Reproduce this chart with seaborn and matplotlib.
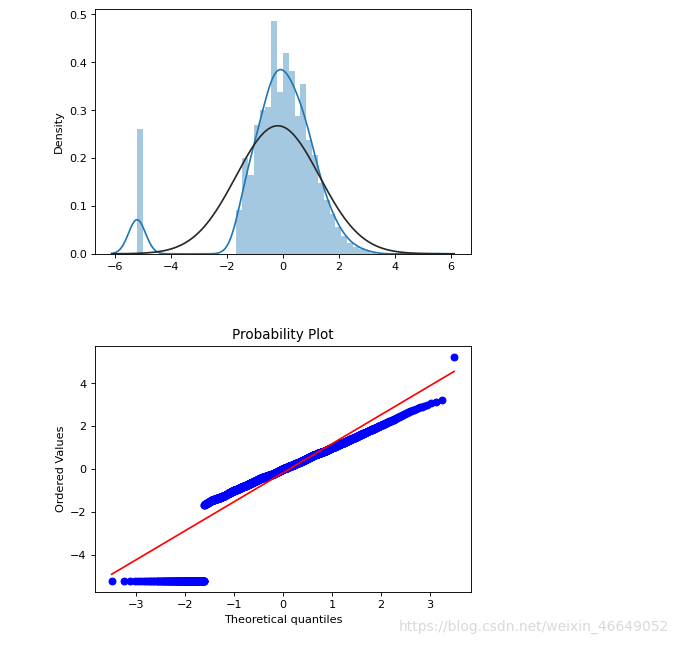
import numpy as np
import matplotlib
matplotlib.use("Agg")
import matplotlib.pyplot as plt
import seaborn as sns
from statistics import NormalDist

# ---------------- data ----------------
value_min = -5.2            # lowest observation (cluster of identical low values)
value_max = 5.22            # highest observation (single high outlier)
n_bins = 50
low_cluster_count = 158     # observations sitting at value_min
first_main_bin = 17         # index of the first histogram bin of the main body
main_bin_counts = [56, 122, 100, 164, 182, 186, 296, 205, 255, 232, 175, 216,
                   145, 125, 90, 68, 50, 34, 22, 14, 9, 6, 4, 1]
high_outlier_count = 1

top_yticks = [0.0, 0.1, 0.2, 0.3, 0.4, 0.5]
top_xticks = [-6, -4, -2, 0, 2, 4, 6]
watermark = "https://blog.csdn.net/weixin_46649052"

# ---------------- rebuild the observations from the histogram ----------------
edges = np.linspace(value_min, value_max, n_bins + 1)
w = edges[1] - edges[0]
main_vals = []
for i, c in enumerate(main_bin_counts):
    a = edges[first_main_bin + i]
    main_vals.append(a + (np.arange(c) + 0.5) / c * w)
values = np.concatenate([np.full(low_cluster_count, value_min),
                         np.concatenate(main_vals),
                         np.full(high_outlier_count, value_max)])
values = np.sort(values)
n = len(values)

# ---------------- figure ----------------
DPI = 81
W, H = 678, 645
fig = plt.figure(figsize=((W + 0.3) / DPI, (H + 0.3) / DPI), dpi=DPI)
ax1 = fig.add_axes([94.5 / W, 1 - 254 / H, (471 - 94.5) / W, (254 - 9.3) / H])
ax2 = fig.add_axes([94.5 / W, 1 - 592 / H, (471 - 94.5) / W, (592 - 346) / H])

# top: distplot-like histogram + kde + normal fit
sns.histplot(values, bins=edges, stat="density", color="C0", alpha=0.4,
             linewidth=0, edgecolor="none", ax=ax1)
sns.kdeplot(values, color="C0", linewidth=1.5, ax=ax1)

mu = values.mean()
sd = values.std()
bw = n ** (-1 / 5) * values.std(ddof=1)
xs = np.linspace(values.min() - 3 * bw, values.max() + 3 * bw, 200)
pdf = np.exp(-0.5 * ((xs - mu) / sd) ** 2) / (sd * np.sqrt(2 * np.pi))
sns.lineplot(x=xs, y=pdf, color="#282828", linewidth=1.5, ax=ax1)
ax1.set_ylabel("Density")
ax1.set_yticks(top_yticks)
ax1.set_xticks(top_xticks)

# bottom: probability plot (Filliben quantiles, least-squares line)
m = np.empty(n)
m[-1] = 0.5 ** (1.0 / n)
m[0] = 1 - m[-1]
i = np.arange(2, n)
m[1:-1] = (i - 0.3175) / (n + 0.365)
nd = NormalDist()
osm = np.array([nd.inv_cdf(p) for p in m])
slope, intercept = np.polyfit(osm, values, 1)

sns.scatterplot(x=osm, y=values, color="blue", edgecolor="blue", s=36,
                linewidth=1, ax=ax2)
sns.lineplot(x=osm, y=slope * osm + intercept, color="red", linewidth=1.5,
             sort=False, estimator=None, ax=ax2)
ax2.set_title("Probability Plot")
ax2.set_xlabel("Theoretical quantiles")
ax2.set_ylabel("Ordered Values")

fig.text(0.986, 0.028, watermark, ha="right", va="center",
         color="#d9d9d9", fontsize=12.3)

fig.savefig("out.png", dpi=DPI)
